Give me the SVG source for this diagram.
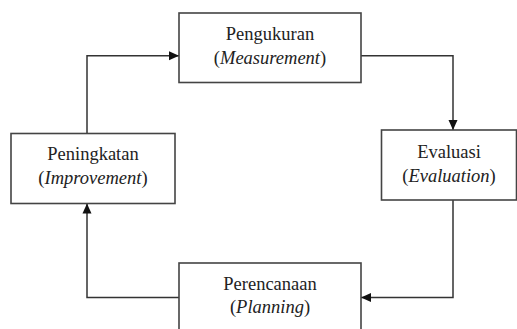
<svg xmlns="http://www.w3.org/2000/svg" width="517" height="329" viewBox="0 0 517 329">
<style>
.box{fill:#fff;stroke:#444;stroke-width:1.6}
.t{font-family:"Liberation Serif","Times New Roman",serif;font-size:18.5px;fill:#222;text-anchor:middle}
.i{font-style:italic}
.c{fill:none;stroke:#333;stroke-width:1.5}
</style>
<defs>
<marker id="ah" viewBox="0 0 10 10" refX="10" refY="5" markerWidth="10" markerHeight="10" markerUnits="userSpaceOnUse" orient="auto">
<path d="M0,0.5 L10,5 L0,9.5 Z" fill="#111"/>
</marker>
</defs>
<rect width="517" height="329" fill="#fff"/>
<g id="connectors">
<path class="c" d="M361,55.7 H453 V130" marker-end="url(#ah)"/>
<path class="c" d="M453,200 V297.5 H361" marker-end="url(#ah)"/>
<path class="c" d="M179,297.5 H87 V203.5" marker-end="url(#ah)"/>
<path class="c" d="M87,133.5 V55.7 H179" marker-end="url(#ah)"/>
</g>
<g id="pengukuran">
<rect class="box" x="179" y="13" width="182" height="69.5"/>
<text class="t" x="270" y="40">Pengukuran</text>
<text class="t" x="270" y="64">(<tspan class="i">Measurement</tspan>)</text>
</g>
<g id="evaluasi">
<rect class="box" x="381.5" y="130" width="135" height="70"/>
<text class="t" x="449" y="158">Evaluasi</text>
<text class="t" x="449" y="182">(<tspan class="i">Evaluation</tspan>)</text>
</g>
<g id="perencanaan">
<rect class="box" x="179" y="263" width="182" height="80"/>
<text class="t" x="270" y="290">Perencanaan</text>
<text class="t" x="270" y="313">(<tspan class="i">Planning</tspan>)</text>
</g>
<g id="peningkatan">
<rect class="box" x="11" y="133.5" width="164" height="70"/>
<text class="t" x="93" y="160">Peningkatan</text>
<text class="t" x="93" y="184">(<tspan class="i">Improvement</tspan>)</text>
</g>
</svg>
